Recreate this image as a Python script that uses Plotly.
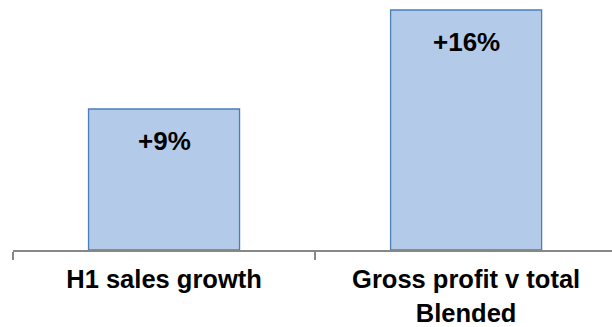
import plotly.graph_objects as go

categories = ["H1 sales growth", "Gross profit v total<br>Blended"]
values = [9.4, 16.0]
labels = ["+9%", "+16%"]

FONT = "Arial, Liberation Sans, sans-serif"

fig = go.Figure()
fig.add_trace(go.Bar(
    x=categories, y=values, width=0.5,
    marker=dict(color="#B3CBE8", line=dict(color="#4A7EBB", width=1.3)),
    hoverinfo="skip",
))
for c, v, t in zip(categories, values, labels):
    fig.add_annotation(x=c, y=v, text="<b>%s</b>" % t, showarrow=False,
                       yanchor="top", yshift=-15,
                       font=dict(family=FONT, size=26, color="#000000"))

fig.update_layout(
    width=612, height=327,
    margin=dict(l=13, r=0, t=0, b=77),
    plot_bgcolor="white", paper_bgcolor="white",
    showlegend=False,
    xaxis=dict(type="category", range=[-0.5, 1.483], automargin=False,
               showline=True, linecolor="#878787", linewidth=1.5,
               ticks="outside", tickson="boundaries", ticklen=8,
               tickcolor="#878787", tickwidth=1.5,
               showgrid=False, zeroline=False, ticklabelstandoff=6,
               tickfont=dict(family=FONT, size=25.5, color="#000000")),
    yaxis=dict(visible=False, range=[0, 16.667]),
)
fig.update_xaxes(ticktext=["<b>H1 sales growth</b>", "<b>Gross profit v total<br>Blended</b>"],
                 tickvals=categories)
fig.write_html("out.html")
